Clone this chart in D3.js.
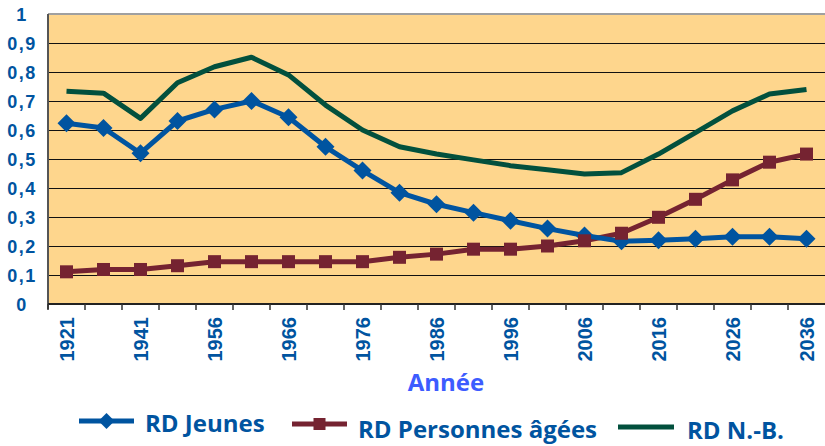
<!DOCTYPE html>
<html>
<head>
<meta charset="utf-8">
<script src="https://cdn.jsdelivr.net/npm/d3@7"></script>
<style>
  body { margin: 0; background: #fff; }
  #chart svg { display: block; }
</style>
</head>
<body>
<div id="chart"></div>
<script>
// données
const annees = ["1921", "1931", "1941", "1951", "1956", "1961", "1966", "1971", "1976", "1981", "1986",
                "1991", "1996", "2001", "2006", "2011", "2016", "2021", "2026", "2031", "2036"];
const rdJeunes = [0.623, 0.607, 0.52, 0.631, 0.671, 0.70, 0.644, 0.542, 0.46, 0.384, 0.344,
                  0.315, 0.287, 0.26, 0.236, 0.216, 0.22, 0.225, 0.232, 0.232, 0.225];
const rdAgees = [0.111, 0.119, 0.119, 0.132, 0.146, 0.146, 0.146, 0.146, 0.146, 0.161, 0.172,
                 0.189, 0.189, 0.2, 0.218, 0.244, 0.299, 0.361, 0.428, 0.489, 0.517];
const rdNB = [0.734, 0.727, 0.64, 0.763, 0.818, 0.851, 0.79, 0.686, 0.6, 0.542, 0.517,
              0.497, 0.477, 0.463, 0.448, 0.453, 0.517, 0.591, 0.666, 0.724, 0.74];
const yTicks = [0, 0.1, 0.2, 0.3, 0.4, 0.5, 0.6, 0.7, 0.8, 0.9, 1];
const etiquettesX = ["1921", "1941", "1956", "1966", "1976", "1986", "1996", "2006", "2016", "2026", "2036"];
const series = [
  { nom: "RD Jeunes", valeurs: rdJeunes, couleur: "#0054a0", marque: "diamond" },
  { nom: "RD Personnes âgées", valeurs: rdAgees, couleur: "#752331", marque: "square" },
  { nom: "RD N.-B.", valeurs: rdNB, couleur: "#02503d", marque: null }
];

const W = 825, H = 446;
const mLeft = 48, mRight = 825, mTop = 14, mBottom = 304;
const bleu = "#0054a0";

const svg = d3.select("#chart").append("svg")
  .attr("width", W).attr("height", H);

const x = d3.scaleBand().domain(annees).range([mLeft, mRight]).padding(0);
const y = d3.scaleLinear().domain([0, 1]).range([mBottom, mTop]);

// fond
svg.append("rect")
  .attr("x", mLeft).attr("y", mTop)
  .attr("width", mRight - mLeft).attr("height", mBottom - mTop)
  .attr("fill", "#fed68d");

// grille
svg.selectAll("line.grid")
  .data(yTicks.filter(d => d > 0 && d < 1))
  .enter().append("line")
  .attr("class", "grid")
  .attr("x1", mLeft).attr("x2", mRight)
  .attr("y1", d => Math.round(y(d)) + 0.5).attr("y2", d => Math.round(y(d)) + 0.5)
  .attr("stroke", "#111").attr("stroke-width", 1.2);

svg.append("line")
  .attr("x1", mLeft).attr("x2", mRight)
  .attr("y1", mTop).attr("y2", mTop)
  .attr("stroke", "#a0a0a0").attr("stroke-width", 2);

// axe y
svg.append("line")
  .attr("x1", mLeft).attr("x2", mLeft)
  .attr("y1", mTop).attr("y2", mBottom + 5)
  .attr("stroke", "#555").attr("stroke-width", 2);

svg.selectAll("text.ylab")
  .data(yTicks)
  .enter().append("text")
  .attr("class", "ylab")
  .attr("x", 22)
  .attr("y", d => y(d) + 6.5)
  .attr("text-anchor", "middle")
  .attr("font-family", "Liberation Sans, Arial, sans-serif")
  .attr("font-weight", "bold")
  .attr("font-size", "18px")
  .attr("letter-spacing", "1.5px")
  .attr("fill", bleu)
  .text(d => String(d).replace(".", ","));

// axe x
const xAxis = d3.axisBottom(x)
  .tickSize(0)
  .tickFormat(d => etiquettesX.includes(d) ? d : "");
const gx = svg.append("g")
  .attr("transform", `translate(0,${mBottom})`)
  .call(xAxis);
gx.select(".domain").remove();
gx.selectAll("text")
  .attr("font-family", "Liberation Sans, Arial, sans-serif")
  .attr("font-weight", "bold")
  .attr("font-size", "20px")
  .attr("fill", bleu)
  .attr("text-anchor", "end")
  .attr("transform", "rotate(-90)")
  .attr("x", -13)
  .attr("y", 0)
  .attr("dy", "0.36em");

svg.append("line")
  .attr("x1", mLeft).attr("x2", mRight)
  .attr("y1", mBottom).attr("y2", mBottom)
  .attr("stroke", "#222").attr("stroke-width", 2);

svg.selectAll("line.tick")
  .data(annees)
  .enter().append("line")
  .attr("class", "tick")
  .attr("x1", d => x(d)).attr("x2", d => x(d))
  .attr("y1", mBottom).attr("y2", mBottom + 6)
  .attr("stroke", "#333").attr("stroke-width", 1.5);

svg.append("text")
  .attr("x", 446).attr("y", 391)
  .attr("text-anchor", "middle")
  .attr("font-family", "Open Sans, sans-serif")
  .attr("font-weight", "bold")
  .attr("font-size", "24px")
  .attr("fill", "#3d5cff")
  .text("Année");

// courbes
const cx = d => x(d) + x.bandwidth() / 2;
const line = d3.line()
  .x((v, i) => cx(annees[i]))
  .y(v => y(v));

const diamond = s => `M0,${-s}L${s},0L0,${s}L${-s},0Z`;

series.slice().reverse().forEach(s => {
  svg.append("path")
    .datum(s.valeurs)
    .attr("d", line)
    .attr("fill", "none")
    .attr("stroke", s.couleur)
    .attr("stroke-width", 5)
    .attr("stroke-linejoin", "round");
});

series.forEach(s => {
  if (s.marque === "square") {
    svg.selectAll(null)
      .data(s.valeurs)
      .enter().append("rect")
      .attr("x", (v, i) => cx(annees[i]) - 6.5)
      .attr("y", v => y(v) - 6.5)
      .attr("width", 13).attr("height", 13)
      .attr("fill", s.couleur);
  } else if (s.marque === "diamond") {
    svg.selectAll(null)
      .data(s.valeurs)
      .enter().append("path")
      .attr("d", diamond(9))
      .attr("transform", (v, i) => `translate(${cx(annees[i])},${y(v)})`)
      .attr("fill", s.couleur);
  }
});

// légende
const leg = [
  { x1: 79, x2: 134, ly: 421, tx: 145, ty: 432 },
  { x1: 292, x2: 347, ly: 424, tx: 358, ty: 438 },
  { x1: 618, x2: 674, ly: 427, tx: 687, ty: 439 }
];

series.forEach((s, i) => {
  const p = leg[i];
  const g = svg.append("g");
  g.append("line")
    .attr("x1", p.x1).attr("x2", p.x2)
    .attr("y1", p.ly).attr("y2", p.ly)
    .attr("stroke", s.couleur).attr("stroke-width", 5);
  const mx = (p.x1 + p.x2) / 2;
  if (s.marque === "diamond") {
    g.append("path").attr("d", diamond(8))
      .attr("transform", `translate(${mx},${p.ly})`).attr("fill", s.couleur);
  } else if (s.marque === "square") {
    g.append("rect").attr("x", mx - 6).attr("y", p.ly - 6)
      .attr("width", 12).attr("height", 12).attr("fill", s.couleur);
  }
  g.append("text")
    .attr("x", p.tx).attr("y", p.ty)
    .attr("font-family", "Open Sans, sans-serif")
    .attr("font-weight", "bold")
    .attr("font-size", "24px")
    .attr("fill", bleu)
    .text(s.nom);
});
</script>
</body>
</html>
